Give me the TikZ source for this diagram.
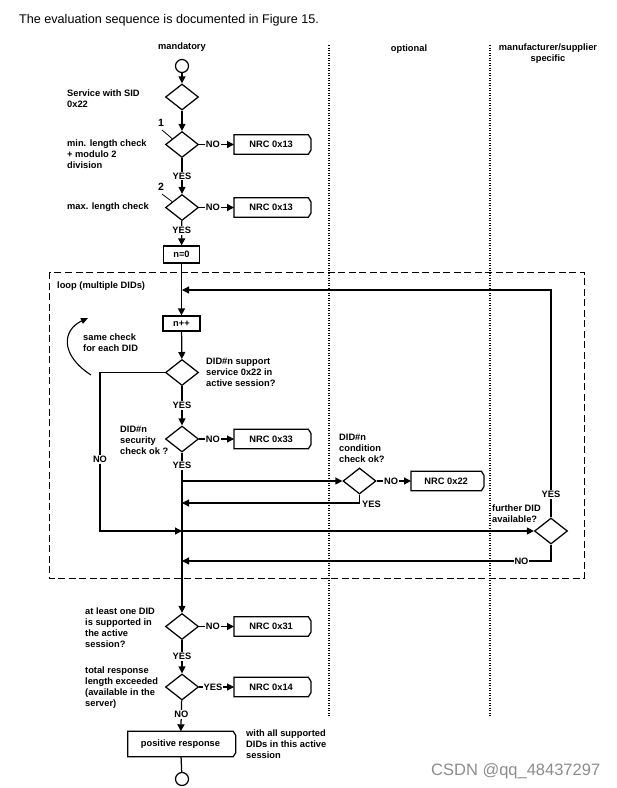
\documentclass[tikz,border=0pt]{standalone}
\usepackage{fontspec}
\setmainfont{Liberation Sans}
\usetikzlibrary{shapes.geometric,arrows.meta,calc}
\begin{document}
\begin{tikzpicture}[x=1pt,y=-1pt,
  lw/.style={line width=1.25pt},
  every node/.style={inner sep=0pt},
  lbl/.style={font=\fontsize{9.3}{11}\selectfont\bfseries},
  txt/.style={lbl,anchor=west,align=left},
  dia/.style={diamond,draw,lw,minimum width=33pt,minimum height=26pt,inner sep=0pt,fill=white},
  pbox/.style={rectangle,draw,lw,inner sep=0pt,lbl},
  nrc/.style={rectangle,inner sep=0pt,lbl,minimum height=19pt,minimum width=74pt},
  circ/.style={circle,draw,lw,minimum size=13pt,inner sep=0pt},
  arr/.style={lw,-{Triangle[length=7pt,width=7pt]}},
  ln/.style={lw},
  yn/.style={lbl,fill=white,inner sep=1pt},
  sep/.style={line width=1.2pt,dash pattern=on 1.2pt off 1.3pt},
]
\useasboundingbox (0,0) rectangle (617,788);
% title
\node[anchor=west,font=\fontsize{12.6}{14}\selectfont] (title) at (19,20) {The evaluation sequence is documented in Figure 15.};
% column headers
\node[lbl] (hm) at (182,47) {mandatory};
\node[lbl] (ho) at (409,49) {optional};
\node[lbl,align=center] (hs) at (548,54) {manufacturer/supplier\\specific};
% separators
\coordinate (s1a) at (329,45); \coordinate (s1b) at (329,717);
\coordinate (s2a) at (490,45); \coordinate (s2b) at (490,717);
\draw[sep] (s1a) -- (s1b);
\draw[sep] (s2a) -- (s2b);
% loop box
\coordinate (la) at (49,272); \coordinate (lb) at (584,578);
\draw[line width=1pt,dash pattern=on 7pt off 3.5pt] (la) rectangle (lb);
\node[lbl,anchor=west] (loop) at (57,286) {loop (multiple DIDs)};

% nodes on spine
\node[circ] (start) at (182,66) {};
\node[dia] (d1) at (182,97) {};
\node[dia] (d2) at (182,144.5) {};
\node[dia] (d3) at (182,207.5) {};
\node[pbox,minimum width=36pt,minimum height=17pt] (n0) at (181.5,254.5) {n=0};
\node[pbox,minimum width=37pt,minimum height=15pt] (npp) at (181.5,323.5) {n++};
\node[dia] (d4) at (182,372.5) {};
\node[dia] (d5) at (182,439) {};
\node[dia] (d6) at (359.5,481) {};
\node[dia] (d7) at (551,531) {};
\node[dia] (d8) at (182,626.5) {};
\node[dia] (d9) at (182,687) {};
\node[nrc,minimum width=105pt,minimum height=25pt] (pos) at (180.5,744) {positive response};
\node[circ] (end) at (182,779) {};

% NRC boxes
\node[nrc,anchor=west] (r1) at (234,144.5) {NRC 0x13};
\node[nrc,anchor=west] (r2) at (234,207.5) {NRC 0x13};
\node[nrc,anchor=west] (r3) at (234,439) {NRC 0x33};
\node[nrc,anchor=west,minimum width=70pt] (r4) at (411,481) {NRC 0x22};
\node[nrc,anchor=west] (r5) at (234,626.5) {NRC 0x31};
\node[nrc,anchor=west] (r6) at (234,687) {NRC 0x14};
\foreach \n in {r1,r2,r3,r4,r5,r6,pos}{
  \draw[lw,line join=miter] (\n.north west) -- (\n.north east)
    -- ([xshift=2.5pt,yshift=-4pt]\n.north east)
    -- ([xshift=2.5pt,yshift=4pt]\n.south east)
    -- (\n.south east) -- (\n.south west) -- cycle;
}

% side texts
\node[txt] (t1) at (67,98.5) {Service with SID\\0x22};
\node[txt] (t2) at (67,154.5) {min. length check\\+ modulo 2\\division};
\node[txt] (t3) at (67,207.5) {max. length check};
\node[font=\fontsize{10.5}{12}\selectfont\bfseries] (k1) at (161,123) {1};
\node[font=\fontsize{10.5}{12}\selectfont\bfseries] (k2) at (161,187) {2};
\coordinate (k1e) at (172,138.5);
\coordinate (k2e) at (172,201.5);
\draw[line width=0.8pt] (162,130) -- (k1e);
\draw[line width=0.8pt] (162,194) -- (k2e);
\node[txt] (t4) at (83,342.5) {same check\\for each DID};
\node[txt] (t5) at (206,372) {DID\#n support\\service 0x22 in\\active session?};
\node[txt] (t6) at (120,440) {DID\#n\\security\\check ok ?};
\node[txt] (t7) at (339,448) {DID\#n\\condition\\check ok?};
\node[txt] (t8) at (492,513.5) {further DID\\available?};
\node[txt] (t9) at (85,627.5) {at least one DID\\is supported in\\the active\\session?};
\node[txt] (t10) at (85,688) {total response\\length exceeded\\(available in the\\server)};
\node[txt] (t11) at (246,744) {with all supported\\DIDs in this active\\session};

% curved arrow
\coordinate (ca) at (91,375);
\coordinate (cb) at (88,318);
\draw[line width=1.1pt,-{Triangle[length=7pt,width=6pt]}] (ca) .. controls (60,355) and (62,330) .. (cb);

% connectors on spine
\draw[arr] (start) -- (d1);
\draw[arr] (d1) -- (d2);
\draw[ln] (d2) -- node[yn,pos=0.42]{NO} ($(r1.west)+(-2,0)$) coordinate (r1i);
\draw[arr] (r1i) -- (r1.west);
\draw[arr] (d2) -- node[yn,pos=0.5]{YES} (d3);
\draw[ln] (d3) -- node[yn,pos=0.42]{NO} ($(r2.west)+(-2,0)$) coordinate (r2i);
\draw[arr] (r2i) -- (r2.west);
\draw[arr] (d3) -- node[yn,pos=0.4]{YES} (n0);
\draw[arr] (n0) -- (npp);
\draw[arr] (npp) -- (d4);
\draw[arr] (d4) -- node[yn,pos=0.5]{YES} (d5);
\draw[ln] (d5) -- node[yn,pos=0.42]{NO} ($(r3.west)+(-2,0)$) coordinate (r3i);
\draw[arr] (r3i) -- (r3.west);
\draw[arr] (d5) -- node[yn,pos=0.08]{YES} (d8);
% optional condition branch
\coordinate (j1) at (182,481);
\draw[arr] (j1) -- (d6);
\draw[ln] (d6) -- node[yn,pos=0.45]{NO} ($(r4.west)+(-2,0)$) coordinate (r4i);
\draw[arr] (r4i) -- (r4.west);
\coordinate (c6) at (359.5,503);
\coordinate (j2) at (182,503);
\draw[arr] (d6.south) -- (c6) -- (j2);
\node[lbl,anchor=west] (y6) at (362,504) {YES};
% NO path of d4
\coordinate (c4a) at (100,372.5);
\coordinate (c4b) at (100,531);
\coordinate (j3) at (182,531);
\draw[arr] (d4.west) -- (c4a) -- node[yn,pos=0.55]{NO} (c4b) -- (j3);
\draw[arr] (j3) -- (d7.west);
% further DID
\coordinate (c7a) at (551,290);
\coordinate (j4) at (182,290);
\draw[arr] (d7.north) -- node[yn,pos=0.1]{YES} (c7a) -- (j4);
\coordinate (c7b) at (551,561);
\coordinate (j5) at (182,561);
\draw[arr] (d7.south) -- (c7b) -- node[yn,pos=0.08]{NO} (j5);
% bottom
\draw[ln] (d8) -- node[yn,pos=0.42]{NO} ($(r5.west)+(-2,0)$) coordinate (r5i);
\draw[arr] (r5i) -- (r5.west);
\draw[arr] (d8) -- node[yn,pos=0.5]{YES} (d9);
\draw[ln] (d9) -- node[yn,pos=0.42]{YES} ($(r6.west)+(-2,0)$) coordinate (r6i);
\draw[arr] (r6i) -- (r6.west);
\draw[arr] (d9) -- node[yn,pos=0.45]{NO} (pos);
\draw[ln] (pos) -- (end);

% watermark text
\node[anchor=west,font=\fontsize{16.5}{18}\selectfont,text=black!45] (csdn) at (431,771) {CSDN @qq\_48437297};
\end{tikzpicture}
\end{document}
